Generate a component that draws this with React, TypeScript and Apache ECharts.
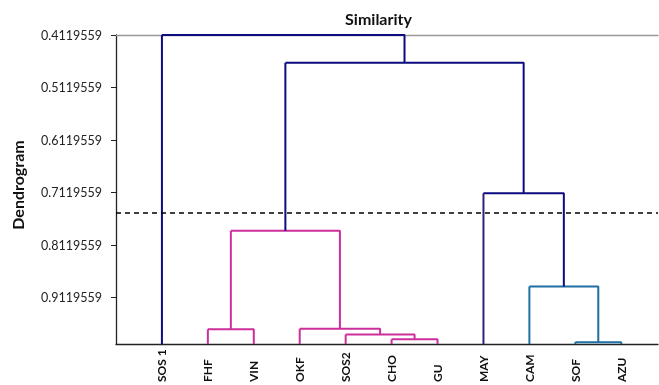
import React, { useEffect, useRef } from "react";
import * as echarts from "echarts";

// Leaves (left to right)
const leaves = ["SOS 1", "FHF", "VIN", "OKF", "SOS2", "CHO", "GU", "MAY", "CAM", "SOF", "AZU"];
// Merges: node ids 0..10 are leaves, merge k creates node 11+k
const mergeLeft = [1, 5, 4, 3, 11, 9, 8, 7, 15, 0];
const mergeRight = [2, 6, 12, 13, 14, 10, 16, 17, 18, 19];
const mergeHeight = [0.972, 0.991, 0.982, 0.971, 0.7846, 0.9965, 0.8906, 0.7133, 0.465, 0.4119559];
const leafHeight = 1;
const cutLevel = 0.748;
const tickLabels = ["0.4119559", "0.5119559", "0.6119559", "0.7119559", "0.8119559", "0.9119559"];

// Styles
const PINK = "#cc2f9c";
const TEAL = "#1f6fa3";
const NAVY = "#0c0c80";
const PURPLE = "#33207a";
const mergeColors = [PINK, PINK, PINK, PINK, PINK, TEAL, TEAL, NAVY, NAVY, NAVY];
const leftLegOverride: Record<number, string> = { 7: PURPLE };

export default function App() {
  const ref = useRef<HTMLDivElement>(null);
  useEffect(() => {
    if (!ref.current) return;
    const chart = echarts.init(ref.current, null, { renderer: "svg" });
    const xPos: number[] = leaves.map((_, i) => i + 1);
    const yPos: number[] = leaves.map(() => leafHeight);
    const series: any[] = [];
    const seg = (data: number[][], color: string) => ({
      type: "line",
      data,
      symbol: "none",
      silent: true,
      lineStyle: { color, width: 2 },
      z: 3,
    });
    mergeLeft.forEach((l, k) => {
      const r = mergeRight[k];
      const h = mergeHeight[k];
      const x1 = xPos[l], x2 = xPos[r];
      const c = mergeColors[k];
      series.push(seg([[x1, yPos[l]], [x1, h]], leftLegOverride[k] || c));
      series.push(seg([[x1, h], [x2, h], [x2, yPos[r]]], c));
      xPos.push((x1 + x2) / 2);
      yPos.push(h);
    });
    series.push({
      type: "line",
      data: [],
      symbol: "none",
      markLine: {
        silent: true,
        symbol: "none",
        label: { show: false },
        lineStyle: { color: "#000", type: [5, 4], width: 1.6 },
        data: [{ yAxis: cutLevel }],
      },
    });
    const font = "Lato, 'Open Sans', sans-serif";
    chart.setOption({
      animation: false,
      graphic: [
        {
          type: "text",
          x: 378.5,
          y: 18,
          style: {
            text: "Similarity",
            fontFamily: font,
            fontWeight: "bold",
            fontSize: 16,
            fill: "#111",
            align: "center",
            verticalAlign: "middle",
          },
        },
        {
          type: "text",
          x: 17.5,
          y: 185,
          rotation: Math.PI / 2,
          style: {
            text: "Dendrogram",
            fontFamily: font,
            fontWeight: "bold",
            fontSize: 16,
            fill: "#111",
            align: "center",
            verticalAlign: "middle",
          },
        },
      ],
      grid: { left: 116, top: 35, right: 1, bottom: 40 },
      xAxis: [
        {
          type: "value",
          min: 0,
          max: 11.8,
          position: "bottom",
          axisLine: { show: true, onZero: false, lineStyle: { color: "#222", width: 1.3 } },
          axisTick: { show: false },
          splitLine: { show: false },
          axisLabel: {
            customValues: leaves.map((_, i) => i + 1),
            formatter: (v: number) => leaves[Math.round(v) - 1] || "",
            rotate: 90,
            align: "left",
            margin: 38,
            fontFamily: font,
            fontWeight: "bold",
            fontSize: 12,
            color: "#111",
          },
        },
        {
          type: "value",
          min: 0,
          max: 11.8,
          position: "top",
          axisLine: { show: true, onZero: false, lineStyle: { color: "#999", width: 1.3 } },
          axisTick: { show: false },
          axisLabel: { show: false },
          splitLine: { show: false },
        },
      ],
      yAxis: {
        type: "value",
        inverse: true,
        min: 0.4119559,
        max: 1,
        axisLine: { show: true, lineStyle: { color: "#222", width: 1.3 } },
        axisTick: { show: true, length: 5, customValues: tickLabels.map(Number), lineStyle: { color: "#222" } },
        splitLine: { show: false },
        axisLabel: {
          customValues: tickLabels.map(Number),
          formatter: (v: number) => v.toFixed(7),
          margin: 14,
          fontFamily: font,
          fontSize: 12.5,
          color: "#222",
        },
      },
      series,
    });
    return () => chart.dispose();
  }, []);
  return <div ref={ref} style={{ position: "fixed", left: 0, top: 0, width: 659, height: 385 }} />;
}
